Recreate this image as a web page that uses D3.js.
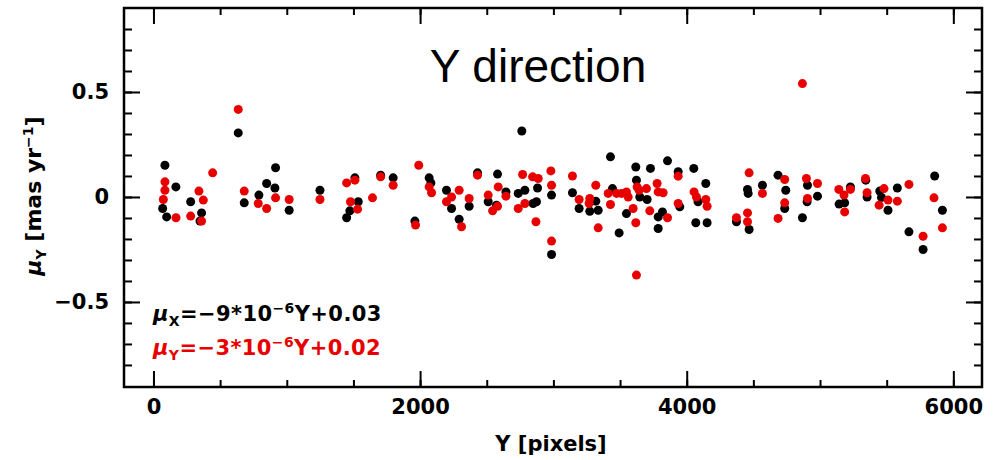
<!DOCTYPE html>
<html>
<head>
<meta charset="utf-8">
<script src="https://cdn.jsdelivr.net/npm/d3@7"></script>
<style>
  html, body { margin: 0; padding: 0; background: #fff; }
  svg { display: block; }
  .tick text { font-family: "DejaVu Sans", sans-serif; font-weight: bold; font-size: 21px; fill: #000; }
  .tick line { stroke: #000; stroke-width: 2; }
  .domain { display: none; }
</style>
</head>
<body>
<svg id="chart" width="1002" height="460"></svg>
<script>
// Proper-motion residuals (Y direction) for two measurement sets, vs. detector Y position
const blackY = [86, 168, 69, 99, 279, 361, 349, 636, 681, 791, 849, 916, 911, 1018, 1249, 1449, 1473, 1511, 1536, 1704, 1798, 1961,
  2068, 2081, 2198, 2236, 2293, 2368, 2431, 2511, 2581, 2573, 2644, 2736, 2763, 2786, 2848, 2873, 2881, 2986, 2986,
  3143, 3193, 3273, 3318, 3336, 3428, 3443, 3493, 3548, 3618, 3623, 3648, 3703, 3728, 3786, 3786, 3818, 3856, 3936, 3948,
  4053, 4068, 4143, 4153, 4085, 4373, 4456, 4461, 4468, 4568, 4685, 4743, 4735, 4868, 4906, 4903, 4981,
  5143, 5185, 5228, 5343, 5353, 5448, 5461, 5510, 5580, 5667, 5773, 5860, 5918];
const blackMu = [0.151, 0.048, -0.055, -0.095, -0.023, -0.076, -0.115, 0.305, -0.028, 0.009, 0.064, 0.139, 0.043, -0.063, 0.032, -0.099, -0.066, 0.091, -0.023, 0.104, 0.091, -0.115,
  0.091, 0.067, 0.032, -0.055, -0.106, -0.044, 0.115, -0.023, 0.109, -0.039, 0.024, 0.017, 0.314, 0.032, -0.031, -0.023, 0.043, 0.009, -0.274,
  0.020, -0.055, -0.068, -0.020, -0.063, 0.191, 0.040, -0.171, -0.079, 0.143, 0.080, 0.0, -0.012, 0.136, -0.095, -0.150, -0.071, 0.172, 0.120, -0.047,
  0.136, -0.123, 0.064, -0.123, -0.023, -0.118, 0.036, 0.017, -0.155, 0.056, 0.104, 0.032, -0.055, -0.099, 0.056, -0.023, 0.004,
  -0.034, -0.028, 0.048, 0.080, 0.0, 0.028, -0.002, -0.063, 0.043, -0.166, -0.250, 0.100, -0.063];

const redY = [86, 86, 74, 169, 279, 341, 374, 361, 444, 636, 681, 786, 849, 916, 1018, 1249, 1449, 1511, 1478, 1531, 1643, 1704, 1798, 1966, 1990,
  2068, 2086, 2198, 2236, 2293, 2311, 2368, 2431, 2511, 2544, 2581, 2586, 2644, 2736, 2769, 2786, 2844, 2886, 2869, 2981, 2986, 2986,
  3143, 3193, 3273, 3268, 3318, 3336, 3411, 3428, 3474, 3511, 3548, 3561, 3598, 3618, 3623, 3628, 3643, 3698, 3723, 3778, 3786, 3823, 3856, 3936, 3936,
  4055, 4073, 4143, 4153, 4373, 4456, 4456, 4468, 4568, 4685, 4735, 4735, 4868, 4898, 4906, 4981,
  5141, 5180, 5185, 5228, 5341, 5353, 5443, 5480, 5510, 5580, 5667, 5773, 5855, 5918];
const redMu = [0.072, 0.032, -0.012, -0.099, -0.091, 0.028, -0.015, -0.115, 0.115, 0.417, 0.028, -0.031, -0.055, -0.004, -0.012, -0.012, 0.067, 0.080, -0.023, -0.058, -0.004, 0.096, 0.056, -0.134, 0.151,
  0.048, 0.020, -0.023, 0.0, 0.032, -0.142, -0.007, 0.104, 0.009, -0.066, -0.044, 0.048, 0.004, -0.055, 0.107, -0.031, 0.096, 0.088, -0.118, 0.124, 0.056, -0.210,
  0.100, -0.012, -0.007, -0.031, 0.056, -0.147, 0.017, -0.036, 0.017, 0.017, 0.024, 0.0, -0.055, -0.123, -0.372, 0.048, 0.032, 0.040, -0.066, 0.064, 0.024, 0.020, -0.099, 0.099, -0.031,
  0.024, 0.0, -0.012, -0.044, -0.099, -0.076, -0.118, 0.115, 0.017, -0.102, 0.083, -0.028, 0.540, 0.088, -0.007, 0.064,
  0.036, 0.009, -0.071, 0.036, 0.088, 0.020, -0.039, 0.040, -0.015, -0.020, 0.060, -0.187, -0.004, -0.147];

const xMajorTicks = [0, 2000, 4000, 6000];
const xMinorTicks = d3.range(0, 6001, 500);
const yMajorTicks = [-0.5, 0, 0.5];
const yMinorTicks = d3.range(-8, 9).map(d => d / 10);

const titleText = "Y direction";

const svg = d3.select("#chart");
const plotL = 124, plotR = 982, plotT = 8, plotB = 387;

const x = d3.scaleLinear().domain([-221, 6215]).range([plotL, plotR]);
const y = d3.scaleLinear().domain([-0.905, 0.9]).range([plotB, plotT]);

const fmtY = d => d === 0 ? "0" : d3.format(".1f")(d);

// Axes: ticks point inward on all four sides, major + minor
function addAxis(gen, transform) {
  return svg.append("g").attr("transform", transform).call(gen);
}
addAxis(d3.axisBottom(x).tickValues(xMinorTicks).tickSize(-7).tickFormat(""), `translate(0,${plotB})`);
addAxis(d3.axisBottom(x).tickValues(xMajorTicks).tickSize(-16).tickPadding(12).tickFormat(d3.format("d")), `translate(0,${plotB})`);
addAxis(d3.axisTop(x).tickValues(xMinorTicks).tickSize(-7).tickFormat(""), `translate(0,${plotT})`);
addAxis(d3.axisTop(x).tickValues(xMajorTicks).tickSize(-16).tickFormat(""), `translate(0,${plotT})`);
addAxis(d3.axisLeft(y).tickValues(yMinorTicks).tickSize(-8).tickFormat(""), `translate(${plotL},0)`);
addAxis(d3.axisLeft(y).tickValues(yMajorTicks).tickSize(-16).tickPadding(15).tickFormat(fmtY), `translate(${plotL},0)`);
addAxis(d3.axisRight(y).tickValues(yMinorTicks).tickSize(-8).tickFormat(""), `translate(${plotR},0)`);
addAxis(d3.axisRight(y).tickValues(yMajorTicks).tickSize(-16).tickFormat(""), `translate(${plotR},0)`);

// Frame
svg.append("rect")
  .attr("x", plotL).attr("y", plotT)
  .attr("width", plotR - plotL).attr("height", plotB - plotT)
  .attr("fill", "none").attr("stroke", "#000").attr("stroke-width", 2.5);

// Points
const r = 4.5;
svg.append("g").selectAll("circle")
  .data(d3.zip(blackY, blackMu))
  .join("circle")
  .attr("cx", d => x(d[0])).attr("cy", d => y(d[1])).attr("r", r)
  .attr("fill", "#000");
svg.append("g").selectAll("circle")
  .data(d3.zip(redY, redMu))
  .join("circle")
  .attr("cx", d => x(d[0])).attr("cy", d => y(d[1])).attr("r", r)
  .attr("fill", "#e80000");

// Title
svg.append("text")
  .attr("x", 538).attr("y", 82)
  .attr("text-anchor", "middle")
  .style("font-family", "'Liberation Sans', Arial, sans-serif")
  .style("font-size", "46px")
  .attr("fill", "#000")
  .text(titleText);

// Fit relations
function fitLine(yPos, color, sub, slope, icpt) {
  const t = svg.append("text")
    .attr("x", 153).attr("y", yPos)
    .style("font-family", "'DejaVu Sans', sans-serif")
    .style("font-weight", "bold")
    .style("font-size", "21px")
    .style("letter-spacing", "0.4px")
    .attr("fill", color);
  t.append("tspan").style("font-style", "italic").text("\u03bc");
  t.append("tspan").attr("dy", 5).style("font-size", "14px").text(sub);
  t.append("tspan").attr("dy", -5).text("=\u2212" + slope + "*10");
  t.append("tspan").attr("dy", -8).style("font-size", "14px").text("\u22126");
  t.append("tspan").attr("dy", 8).text("Y+" + icpt);
}
fitLine(321, "#000", "X", "9", "0.03");
fitLine(355, "#e80000", "Y", "3", "0.02");

// Axis titles
svg.append("text")
  .attr("x", 551).attr("y", 451)
  .attr("text-anchor", "middle")
  .style("font-family", "'DejaVu Sans', sans-serif")
  .style("font-weight", "bold")
  .style("font-size", "21px")
  .attr("fill", "#000")
  .text("Y [pixels]");

const yl = svg.append("text")
  .attr("transform", "translate(41,196) rotate(-90)")
  .attr("text-anchor", "middle")
  .style("font-family", "'DejaVu Sans', sans-serif")
  .style("font-weight", "bold")
  .style("font-size", "22px")
  .attr("fill", "#000");
yl.append("tspan").style("font-style", "italic").text("\u03bc");
yl.append("tspan").attr("dy", 5).style("font-size", "14px").text("Y");
yl.append("tspan").attr("dy", -5).text(" [mas yr");
yl.append("tspan").attr("dy", -8).style("font-size", "14px").text("\u22121");
yl.append("tspan").attr("dy", 8).text("]");
</script>
</body>
</html>
